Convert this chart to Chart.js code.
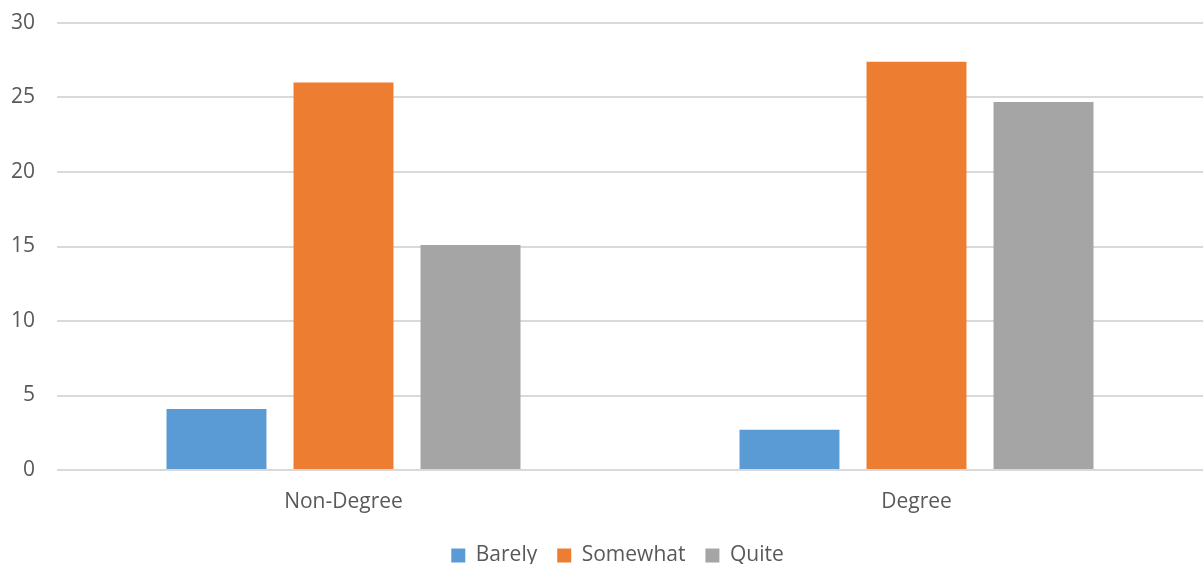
<!DOCTYPE html>
<html>
<head>
<meta charset="utf-8">
<script src="https://cdn.jsdelivr.net/npm/chart.js@4/dist/chart.umd.min.js"></script>
<style>
  html, body { margin: 0; padding: 0; background: #fff; }
  #wrap { position: relative; width: 1203px; height: 564px; }
</style>
</head>
<body>
<div id="wrap"><canvas id="chart"></canvas></div>
<script>
// categories and series
const categories = ['Non-Degree', 'Degree'];
const barely = [4.1, 2.7];
const somewhat = [26, 27.4];
const quite = [15.1, 24.7];
const yTicks = [0, 5, 10, 15, 20, 25, 30];

const textColor = '#595959';
const gridColor = '#d9d9d9';
const fontFamily = '"Open Sans", "Noto Sans", sans-serif';

// nudge the legend a little to the right of the canvas centre
const legendShift = {
  id: 'legendShift',
  afterLayout(chart) {
    if (!chart.legend) return;
    chart.legend.left += 16;
    chart.legend.right += 16;
  },
};

new Chart(document.getElementById('chart'), {
  type: 'bar',
  data: {
    labels: categories,
    datasets: [
      { label: 'Barely', data: barely, backgroundColor: '#5b9bd5' },
      { label: 'Somewhat', data: somewhat, backgroundColor: '#ed7d31' },
      { label: 'Quite', data: quite, backgroundColor: '#a5a5a5' },
    ],
  },
  plugins: [legendShift],
  options: {
    responsive: true,
    maintainAspectRatio: false,
    animation: false,
    layout: { padding: { top: 23, right: 0, bottom: -12, left: 0 } },
    datasets: {
      bar: { categoryPercentage: 0.665, barPercentage: 0.787 },
    },
    plugins: {
      legend: {
        position: 'bottom',
        labels: {
          color: textColor,
          font: { family: fontFamily, size: 21 },
          boxWidth: 14,
          boxHeight: 14,
          padding: 20,
        },
      },
      tooltip: { enabled: false },
    },
    scales: {
      x: {
        afterFit: (axis) => { axis.height = 55; },
        grid: { display: false },
        border: { display: false },
        ticks: { color: textColor, font: { family: fontFamily, size: 21 }, padding: 11 },
      },
      y: {
        min: 0,
        max: 30,
        afterBuildTicks: (axis) => { axis.ticks = yTicks.map((v) => ({ value: v })); },
        afterFit: (axis) => {
          // wide label gap, but keep the plot area tight to the top
          axis.width = 57;
          axis.paddingTop = 12;
          axis.paddingBottom = 12;
        },
        grid: { color: gridColor, lineWidth: 2, drawTicks: false },
        border: { display: false },
        ticks: { color: textColor, font: { family: fontFamily, size: 21 }, padding: 22 },
      },
    },
  },
});
</script>
</body>
</html>
